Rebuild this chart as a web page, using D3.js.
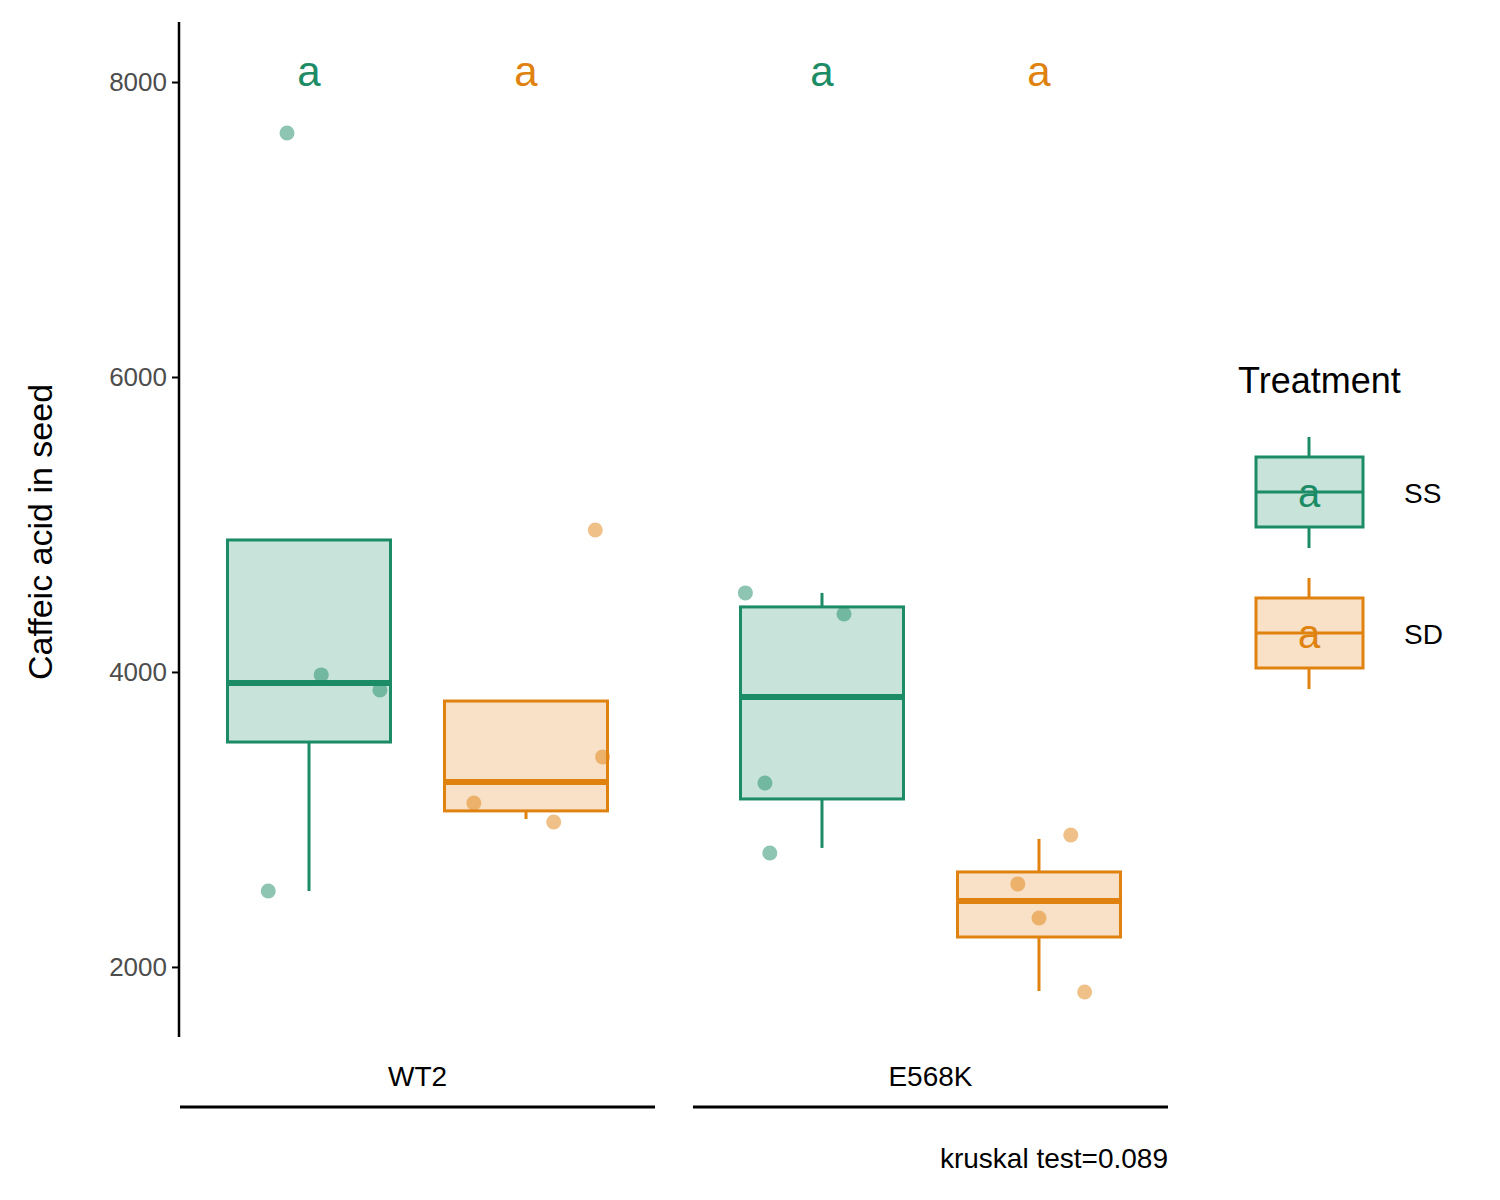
<!DOCTYPE html>
<html>
<head>
  <meta charset="utf-8">
  <title>Caffeic acid</title>
  <script src="https://cdn.jsdelivr.net/npm/d3@7"></script>
</head>
<style>
  html, body { margin: 0; padding: 0; background: white; }
  svg { font-family: "Liberation Sans", Arial, sans-serif; }
</style>
<body>
<div id="chart"></div>
<script>
  // data
  const genotypes = ['WT2', 'E568K']
  const treatments = ['SS', 'SD']
  const colors = { SS: '#1b8c65', SD: '#e0820f' }
  const yTicks = [2000, 4000, 6000, 8000]
  // [genotype, treatment, q1, median, q3, whiskerLow, whiskerHigh]
  const boxes = [
    ['WT2', 'SS', 3525, 3925, 4895, 2515, 4895],
    ['WT2', 'SD', 3058, 3254, 3803, 3003, 3803],
    ['E568K', 'SS', 3139, 3831, 4441, 2807, 4536],
    ['E568K', 'SD', 2203, 2447, 2644, 1837, 2868]
  ]
  // [genotype, treatment, value, jitter (fraction of half box width)]
  const points = [
    ['WT2', 'SS', 7654, -0.27], ['WT2', 'SS', 3980, 0.15], ['WT2', 'SS', 3878, 0.87], ['WT2', 'SS', 2515, -0.5],
    ['WT2', 'SD', 4963, 0.85], ['WT2', 'SD', 3424, 0.94], ['WT2', 'SD', 3112, -0.64], ['WT2', 'SD', 2983, 0.34],
    ['E568K', 'SS', 4536, -0.94], ['E568K', 'SS', 4393, 0.27], ['E568K', 'SS', 3247, -0.7], ['E568K', 'SS', 2773, -0.64],
    ['E568K', 'SD', 2895, 0.39], ['E568K', 'SD', 2563, -0.26], ['E568K', 'SD', 2332, 0], ['E568K', 'SD', 1830, 0.56]
  ]
  const letters = [['WT2', 'SS', 'a'], ['WT2', 'SD', 'a'], ['E568K', 'SS', 'a'], ['E568K', 'SD', 'a']]

  const svg = d3.select('#chart').append('svg').attr('width', 1500).attr('height', 1200)

  const y = d3.scaleLinear().domain([1525, 8407]).range([1037, 22])
  const x = d3.scaleBand().domain(genotypes).range([180, 1168]).paddingInner(0.074)
  const dodge = d3.scaleOrdinal().domain(treatments).range([-108.5, 108.5])
  const bw = 163
  const cx = (g, t) => x(g) + x.bandwidth() / 2 + dodge(t)

  // y axis
  const yAxis = svg.append('g').attr('transform', 'translate(179,0)')
    .call(d3.axisLeft(y).tickValues(yTicks).tickFormat(d3.format('d')).tickSize(7).tickPadding(5).tickSizeOuter(0))
  yAxis.attr('font-size', null).attr('font-family', null)
  yAxis.select('.domain').attr('d', 'M0,22V1037').attr('stroke', 'black').attr('stroke-width', 2.5)
  yAxis.selectAll('.tick line').attr('stroke', 'black').attr('stroke-width', 2)
  yAxis.selectAll('.tick text').style('font-size', '26px').attr('fill', '#4d4d4d')

  svg.append('text').attr('transform', 'translate(52,532) rotate(-90)')
    .attr('text-anchor', 'middle').style('font-size', '34px').text('Caffeic acid in seed')

  // boxes
  const bg = svg.append('g').selectAll('g').data(boxes).enter().append('g')
  bg.append('line').attr('x1', d => cx(d[0], d[1])).attr('x2', d => cx(d[0], d[1]))
    .attr('y1', d => y(d[5])).attr('y2', d => y(d[2]))
    .attr('stroke', d => colors[d[1]]).attr('stroke-width', 3)
  bg.append('line').attr('x1', d => cx(d[0], d[1])).attr('x2', d => cx(d[0], d[1]))
    .attr('y1', d => y(d[6])).attr('y2', d => y(d[4]))
    .attr('stroke', d => colors[d[1]]).attr('stroke-width', 3)
  bg.append('rect').attr('x', d => cx(d[0], d[1]) - bw / 2).attr('width', bw)
    .attr('y', d => y(d[4])).attr('height', d => y(d[2]) - y(d[4]))
    .attr('fill', d => colors[d[1]]).attr('fill-opacity', 0.24)
    .attr('stroke', d => colors[d[1]]).attr('stroke-width', 3)
  bg.append('line').attr('x1', d => cx(d[0], d[1]) - bw / 2).attr('x2', d => cx(d[0], d[1]) + bw / 2)
    .attr('y1', d => y(d[3])).attr('y2', d => y(d[3]))
    .attr('stroke', d => colors[d[1]]).attr('stroke-width', 6)

  // points
  svg.append('g').selectAll('circle').data(points).enter().append('circle')
    .attr('cx', d => cx(d[0], d[1]) + d[3] * bw / 2)
    .attr('cy', d => y(d[2])).attr('r', 7.5)
    .attr('fill', d => colors[d[1]]).attr('fill-opacity', 0.5)

  // letters
  svg.append('g').selectAll('text').data(letters).enter().append('text')
    .attr('x', d => cx(d[0], d[1])).attr('y', 86).attr('text-anchor', 'middle')
    .style('font-size', '42px').attr('fill', d => colors[d[1]]).text(d => d[2])

  // group labels and lines
  const gl = svg.append('g').selectAll('g').data(genotypes).enter().append('g')
  gl.append('text').attr('x', d => x(d) + x.bandwidth() / 2).attr('y', 1086)
    .attr('text-anchor', 'middle').style('font-size', '28px').text(d => d)
  gl.append('line').attr('x1', d => x(d)).attr('x2', d => x(d) + x.bandwidth())
    .attr('y1', 1107).attr('y2', 1107).attr('stroke', 'black').attr('stroke-width', 3)
  svg.append('text').attr('x', 1168).attr('y', 1168).attr('text-anchor', 'end')
    .style('font-size', '28px').text('kruskal test=0.089')

  // legend
  const lg = svg.append('g')
  lg.append('text').attr('x', 1238).attr('y', 393).style('font-size', '36px').text('Treatment')
  const keys = lg.selectAll('g').data(treatments).enter().append('g')
    .attr('transform', (d, i) => 'translate(1256,' + (437 + i * 141) + ')')
  keys.append('line').attr('x1', 53).attr('x2', 53).attr('y1', 0).attr('y2', 111)
    .attr('stroke', d => colors[d]).attr('stroke-width', 3)
  keys.append('rect').attr('x', 0).attr('y', 20).attr('width', 107).attr('height', 70)
    .attr('fill', 'white').attr('stroke', 'none')
  keys.append('rect').attr('x', 0).attr('y', 20).attr('width', 107).attr('height', 70)
    .attr('fill', d => colors[d]).attr('fill-opacity', 0.24)
    .attr('stroke', d => colors[d]).attr('stroke-width', 3)
  keys.append('line').attr('x1', 0).attr('x2', 107).attr('y1', 55).attr('y2', 55)
    .attr('stroke', d => colors[d]).attr('stroke-width', 3)
  keys.append('text').attr('x', 53).attr('y', 70).attr('text-anchor', 'middle')
    .style('font-size', '40px').attr('fill', d => colors[d]).text('a')
  keys.append('text').attr('x', 148).attr('y', 66).style('font-size', '28px').text(d => d)
</script>
</body>
</html>
